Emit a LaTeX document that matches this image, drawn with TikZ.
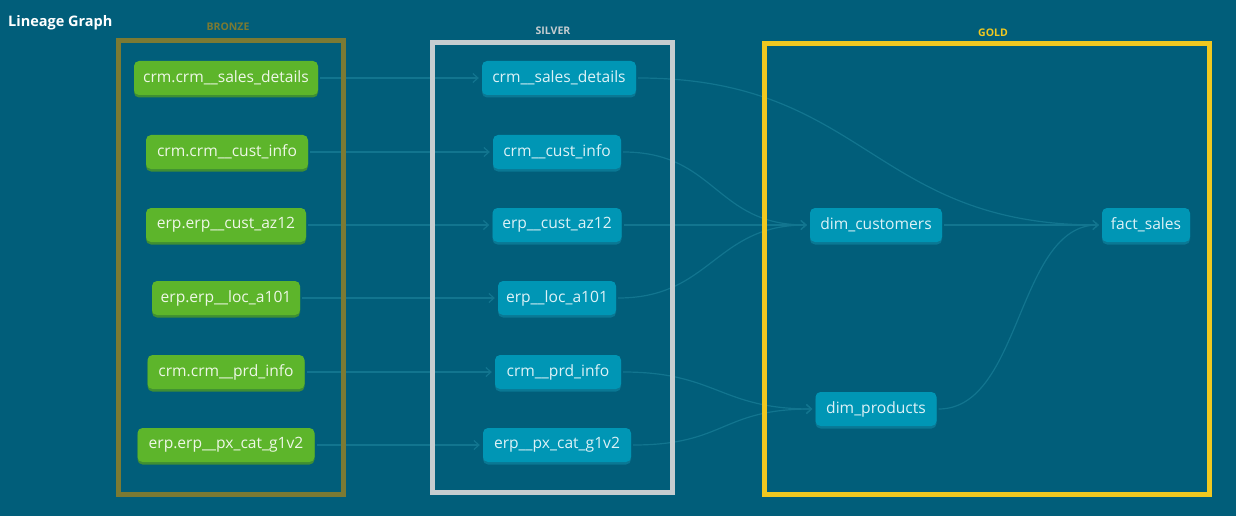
\documentclass[tikz,border=0pt]{standalone}
\usepackage{fontspec}
\setmainfont{Open Sans}
\usetikzlibrary{arrows.meta,shadows}
\pgfdeclarelayer{bg}
\pgfsetlayers{bg,main}
\definecolor{bgc}{HTML}{015E7A}
\definecolor{bzfill}{HTML}{5DB52B}
\definecolor{bzshadow}{HTML}{3F8F33}
\definecolor{svfill}{HTML}{0096B5}
\definecolor{svshadow}{HTML}{0A7894}
\definecolor{edgec}{HTML}{12758F}
\definecolor{bzframe}{HTML}{7B7A33}
\definecolor{svframe}{HTML}{C5CDD0}
\definecolor{gdframe}{HTML}{F0C820}
\definecolor{bztext}{HTML}{EEF7E6}
\definecolor{svtext}{HTML}{DDF2F7}
\tikzset{
  box/.style={rounded corners=5pt, minimum height=34pt, inner xsep=4pt, inner ysep=0pt,
    font=\fontsize{15.6}{18}\selectfont},
  bz/.style={box, fill=bzfill, text=bztext, general shadow={fill=bzshadow, shadow yshift=-2.5pt}},
  sv/.style={box, fill=svfill, text=svtext, general shadow={fill=svshadow, shadow yshift=-2.5pt}},
  edge/.style={draw=edgec, line width=1.2pt, shorten >=3pt, shorten <=2pt,
    -{Straight Barb[length=5pt,width=9pt,line width=1.2pt]}},
  frame/.style={line width=5pt},
  layerlabel/.style={font=\bfseries\fontsize{10.5}{12}\selectfont},
}
\begin{document}
\begin{tikzpicture}[x=1pt,y=-1pt]
\useasboundingbox (0,0) rectangle (1236,516);
% nodes
\node[bz, minimum width=184pt] (b1) at (226,78) {crm.crm\_\_sales\_details};
\node[bz, minimum width=162pt] (b2) at (227,152) {crm.crm\_\_cust\_info};
\node[bz, minimum width=160pt] (b3) at (226,225) {erp.erp\_\_cust\_az12};
\node[bz, minimum width=148pt] (b4) at (226,298) {erp.erp\_\_loc\_a101};
\node[bz, minimum width=157pt] (b5) at (226,372) {crm.crm\_\_prd\_info};
\node[bz, minimum width=177pt] (b6) at (226,445) {erp.erp\_\_px\_cat\_g1v2};
\node[sv, minimum width=154pt] (s1) at (559,78) {crm\_\_sales\_details};
\node[sv, minimum width=128pt] (s2) at (557,152) {crm\_\_cust\_info};
\node[sv, minimum width=129pt] (s3) at (557,225) {erp\_\_cust\_az12};
\node[sv, minimum width=118pt] (s4) at (557,298) {erp\_\_loc\_a101};
\node[sv, minimum width=126pt] (s5) at (558,372) {crm\_\_prd\_info};
\node[sv, minimum width=148pt] (s6) at (557,445) {erp\_\_px\_cat\_g1v2};
\node[sv, minimum width=132pt] (dc) at (876,225) {dim\_customers};
\node[sv, minimum width=88pt] (fs) at (1146,225) {fact\_sales};
\node[sv, minimum width=121pt] (dp) at (876,409) {dim\_products};
% labels
\node[anchor=west, text=white, font=\bfseries\fontsize{14.5}{17}\selectfont, inner sep=0pt] (title) at (8,23) {Lineage Graph};
\node[layerlabel, text=bzframe] (lb) at (228,27) {BRONZE};
\node[layerlabel, text=svframe] (ls) at (553,31) {SILVER};
\node[layerlabel, text=gdframe] (lg) at (993,33) {GOLD};
\begin{pgfonlayer}{bg}
\fill[bgc] (0,0) rectangle (1236,516);
\draw[edge] (b1.east) -- (s1.west);
\draw[edge] (b2.east) -- (s2.west);
\draw[edge] (b3.east) -- (s3.west);
\draw[edge] (b4.east) -- (s4.west);
\draw[edge] (b5.east) -- (s5.west);
\draw[edge] (b6.east) -- (s6.west);
\draw[edge] (s1.east) .. controls +(230,0) and +(-230,0) .. (fs.west);
\draw[edge] (s2.east) .. controls +(95,0) and +(-95,0) .. (dc.west);
\draw[edge] (s3.east) -- (dc.west);
\draw[edge] (s4.east) .. controls +(95,0) and +(-95,0) .. (dc.west);
\draw[edge] (s5.east) .. controls +(95,0) and +(-95,0) .. (dp.west);
\draw[edge] (s6.east) .. controls +(95,0) and +(-95,0) .. (dp.west);
\draw[edge] (dc.east) -- (fs.west);
\draw[edge] (dp.east) .. controls +(85,0) and +(-85,0) .. (fs.west);
\draw[frame, draw=bzframe] (118,40.5) rectangle (343,494.5);
\draw[frame, draw=svframe] (432.5,42.5) rectangle (672.5,492.5);
\draw[frame, draw=gdframe] (764.5,43.5) rectangle (1209,494.5);
\end{pgfonlayer}
\end{tikzpicture}
\end{document}
